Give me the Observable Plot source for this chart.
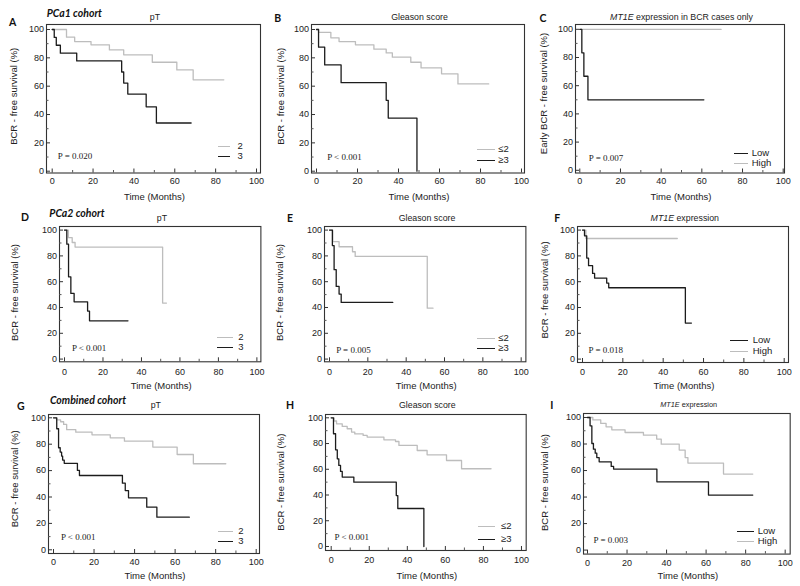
<!DOCTYPE html>
<html><head><meta charset="utf-8">
<script src="https://cdn.jsdelivr.net/npm/d3@7"></script>
<script src="https://cdn.jsdelivr.net/npm/@observablehq/plot@0.6"></script>
<style>
body{margin:0;background:#fff;}
#fig{position:relative;width:800px;height:586px;overflow:hidden;font-family:"Liberation Sans",Arial,sans-serif;color:#222;}
.abs{position:absolute;white-space:nowrap;line-height:1;}
.letter{font-family:Lato,"Liberation Sans",sans-serif;font-weight:bold;font-size:10.5px;transform:translate(-50%,-50%);color:#111;}
.cohort{font-family:Lato,"Liberation Sans",sans-serif;font-weight:bold;font-style:italic;font-size:10.5px;transform:translateY(-50%);color:#111;}
.title{font-size:8.8px;transform:translate(-50%,-50%);color:#222;}
.leglab{font-size:9.5px;transform:translateY(-50%);color:#222;}
.plotbox{position:absolute;}
</style></head><body><div id="fig"></div><script>
// ---------- data (time in months, BCR-free survival in %) ----------
const majorTicks = [0, 20, 40, 60, 80, 100];
const minorTicks = [10, 30, 50, 70, 90];

// A: PCa1, pT
const aT2Time = [0, 7, 11, 19, 28, 35, 49, 61, 69, 84];
const aT2Surv = [100, 94.6, 91.5, 89.2, 85.6, 82.1, 76.9, 71.5, 64.5, 64.5];
const aT3Time = [0, 1, 2, 4, 12, 34, 35, 37, 46, 51, 68];
const aT3Surv = [100, 94.4, 88.9, 83.3, 77.8, 70, 62.2, 54.4, 45.4, 34, 34];
// B: PCa1, Gleason
const bLoTime = [0, 1, 7, 11, 19, 28, 34, 37, 46, 51, 61, 69, 84];
const bLoSurv = [100, 98, 94.1, 91.5, 89.2, 86.1, 83.5, 80.5, 76.9, 72.9, 68.7, 61.6, 61.6];
const bHiTime = [0, 1, 4, 12, 34, 35, 49];
const bHiSurv = [100, 87.5, 75, 62.5, 50, 37.5, 0];
// C: PCa1, MT1E in BCR cases only
const cHighTime = [0, 69.5];
const cHighSurv = [100, 100];
const cLowTime = [0, 1, 2, 4, 61];
const cLowSurv = [100, 83.3, 66.7, 50, 50];
// D: PCa2, pT
const dT2Time = [0, 2, 4, 5.5, 51, 53];
const dT2Surv = [100, 94.1, 90.4, 86.8, 43.4, 43.4];
const dT3Time = [0, 1.2, 2.1, 3.3, 5, 12, 13, 33];
const dT3Surv = [100, 89.1, 63.8, 50.9, 44.4, 37.2, 29.7, 29.7];
// E: PCa2, Gleason
const eLoTime = [0, 1.7, 5, 12, 13.4, 51, 54];
const eLoSurv = [100, 91, 87.1, 83.2, 79.6, 39.5, 39.5];
const eHiTime = [0, 1.5, 2.4, 3.5, 5, 6.1, 33];
const eHiSurv = [100, 88, 69.3, 56.3, 50.4, 43.9, 43.9];
// F: PCa2, MT1E
const fHighTime = [0, 1.7, 47];
const fHighSurv = [100, 93.5, 93.5];
const fLowTime = [0, 1, 2.1, 3, 5, 6, 12, 13, 51, 54];
const fLowSurv = [100, 95.6, 78.3, 72.4, 66.4, 62.8, 58.9, 55.3, 27.9, 27.9];
// G: Combined, pT
const gT2Time = [0, 1.5, 3.5, 5, 6.5, 11, 19, 28, 35, 49, 61, 69, 85];
const gT2Surv = [100, 98.5, 97, 95, 91, 89.1, 87.1, 84.8, 82.3, 77.8, 72.2, 65.2, 65.2];
const gT3Time = [0, 1.6, 2.5, 3.3, 4, 4.5, 5.3, 11.8, 12.8, 34, 35.4, 37, 46, 51, 67];
const gT3Surv = [100, 91.7, 77.3, 74, 71, 68, 65.5, 60.1, 56.3, 50.5, 44.9, 39.4, 32.3, 24.7, 24.7];
// H: Combined, Gleason
const hLoTime = [0, 1.5, 2.8, 5.8, 8.4, 10.7, 12.4, 16.8, 18.9, 27.7, 33.8, 35.6, 45.2, 50.4, 60.6, 68.5, 84];
const hLoSurv = [100, 97.5, 95.3, 93.3, 91.5, 88.9, 87.5, 86.3, 85, 82.9, 81.6, 78.5, 74.6, 71.2, 66.8, 60.4, 60.4];
const hHiTime = [0, 1.2, 2.3, 3.2, 4, 4.9, 5.8, 11.9, 34.2, 35, 48.7];
const hHiSurv = [100, 87.6, 75.1, 68.1, 63, 58.3, 53.9, 50, 39.6, 29.5, 0];
// I: Combined, MT1E
const iHighTime = [0, 2.7, 6.7, 9.4, 12.3, 19, 28.3, 35, 37.3, 46.4, 49.4, 50.8, 68.8, 83.6];
const iHighSurv = [100, 98.2, 95.5, 93, 90.7, 88.7, 86.7, 83.7, 79.9, 75.4, 69.8, 65.6, 57.3, 57.3];
const iLowTime = [0, 1.3, 2.2, 3, 3.9, 4.7, 5.9, 12, 13.2, 35.1, 61.2, 83.6];
const iLowSurv = [100, 93.7, 80.4, 76.1, 73.1, 69.8, 66.6, 63.1, 61.1, 51.5, 41.5, 41.5];

// ---------- layout / style ----------
const GRAY = "#bdbdbd", BLACK = "#1c1c1c";
const YLAB = "BCR - free survival (%)";
const panels = [
  {L:46,R:260,T:24,B:172.5,x0:51.7,x100:256,y100:29,y0:170.7, letter:"A",lx:12.7,ly:21.7, cohort:"PCa1 cohort",cx:46.7,cy:13.3,
   title:"pT",ty:17.3, ylab:YLAB,ylx:13.3,yly:95.8, p:"P = 0.020",px:57.3,py:156, tpad:5, xly:196,
   series:[[aT2Time,aT2Surv,GRAY],[aT3Time,aT3Surv,BLACK]],
   legend:[["2",GRAY,218.3,230,145.7,237.5],["3",BLACK,218.3,230,155.7,237.5]]},
  {L:311,R:524,T:24,B:172.5,x0:316,x100:521,y100:29,y0:170.7, letter:"B",lx:277.7,ly:18.3,
   title:"Gleason score",ty:17.3, ylab:YLAB,ylx:280,yly:95.8, p:"P < 0.001",px:326.7,py:156.7, tpad:5, xly:196,
   series:[[bLoTime,bLoSurv,GRAY],[bHiTime,bHiSurv,BLACK]],
   legend:[["≤2",GRAY,476.7,495,149,498.3],["≥3",BLACK,476.7,495,160,498.3]]},
  {L:575,R:784,T:23.5,B:172,x0:579.3,x100:782.7,y100:28.3,y0:169.3, letter:"C",lx:543,ly:18.3,
   title:"<i>MT1E</i> expression in BCR cases only",ty:17.3, ylab:"Early BCR - free survival (%)",ylx:543.3,yly:92.5, p:"P = 0.007",px:588.3,py:156.7, tpad:5, xly:196,
   series:[[cHighTime,cHighSurv,GRAY],[cLowTime,cLowSurv,BLACK]],
   legend:[["Low",BLACK,734,748.3,152.7,751.7],["High",GRAY,734,748.3,163.3,751.7]]},
  {L:59.3,R:260.7,T:225.7,B:361,x0:64.3,x100:256.7,y100:229.3,y0:358.3, letter:"D",lx:25,ly:216.7, cohort:"PCa2 cohort",cx:49.3,cy:213.3,
   title:"pT",ty:217.7, ylab:YLAB,ylx:15,yly:291.7, p:"P < 0.001",px:71.7,py:347.7, tpad:6.5, xly:385,
   series:[[dT2Time,dT2Surv,GRAY],[dT3Time,dT3Surv,BLACK]],
   legend:[["2",GRAY,217.3,233.3,336.7,238.2],["3",BLACK,217.3,233.3,346.7,238.2]]},
  {L:324.3,R:525.7,T:225.7,B:361,x0:329.3,x100:521,y100:229.3,y0:358.3, letter:"E",lx:290,ly:217.7,
   title:"Gleason score",ty:217.7, ylab:YLAB,ylx:280,yly:291.7, p:"P = 0.005",px:336,py:349, tpad:6.5, xly:385,
   series:[[eLoTime,eLoSurv,GRAY],[eHiTime,eHiSurv,BLACK]],
   legend:[["≤2",GRAY,476.7,495,337.7,498.3],["≥3",BLACK,476.7,495,348.3,498.3]]},
  {L:577.3,R:788.3,T:225.7,B:361.7,x0:582.3,x100:784,y100:229.3,y0:358.3, letter:"F",lx:557.3,ly:217.7,
   title:"<i>MT1E</i> expression",ty:217.7, ylab:YLAB,ylx:545,yly:289.2, p:"P = 0.018",px:588.3,py:349, tpad:6.5, xly:385,
   series:[[fHighTime,fHighSurv,GRAY],[fLowTime,fLowSurv,BLACK]],
   legend:[["Low",BLACK,730,748.3,340,752.7],["High",GRAY,730,748.3,350.7,752.7]]},
  {L:48.3,R:259.3,T:414,B:553,x0:53.3,x100:256,y100:417.3,y0:549.3, letter:"G",lx:20.7,ly:406, cohort:"Combined cohort",cx:50,cy:400,
   title:"pT",ty:405, ylab:YLAB,ylx:15,yly:478.3, p:"P < 0.001",px:60.7,py:536.7, tpad:5.5, xly:575.5,
   series:[[gT2Time,gT2Surv,GRAY],[gT3Time,gT3Surv,BLACK]],
   legend:[["2",GRAY,218.3,233.3,530.7,238.2],["3",BLACK,218.3,233.3,540.7,238.2]]},
  {L:325,R:525.7,T:414,B:550,x0:330.7,x100:521,y100:417.3,y0:546, letter:"H",lx:290,ly:405,
   title:"Gleason score",ty:405, ylab:YLAB,ylx:280,yly:481.7, p:"P < 0.001",px:334,py:536.7, tpad:6.5, xly:575.5,
   series:[[hLoTime,hLoSurv,GRAY],[hHiTime,hHiSurv,BLACK]],
   legend:[["≤2",GRAY,478.3,495,526,501],["≥3",BLACK,478.3,495,539.3,501]]},
  {L:583.3,R:790,T:412.7,B:553.3,x0:587.3,x100:785,y100:416.7,y0:549.3, letter:"I",lx:551.7,ly:405,
   title:"<i>MT1E</i> expression",ty:405,tsize:7.3, ylab:YLAB,ylx:545,yly:481.7, p:"P = 0.003",px:593.3,py:539.3, tpad:5.5, xly:575.5,
   series:[[iHighTime,iHighSurv,GRAY],[iLowTime,iLowSurv,BLACK]],
   legend:[["Low",BLACK,737.3,754,530.7,757.7],["High",GRAY,737.3,754,540.7,757.7]]}
];

const fig = document.getElementById("fig");
function addDiv(cls, html, x, y, extra) {
  const d = document.createElement("div");
  d.className = "abs " + cls;
  d.innerHTML = html;
  d.style.left = x + "px"; d.style.top = y + "px";
  if (extra) Object.assign(d.style, extra);
  fig.appendChild(d);
  return d;
}

for (const c of panels) {
  const sx = (c.x100 - c.x0) / 100, sy = (c.y0 - c.y100) / 100;
  const xdom = [(c.L - c.x0) / sx, (c.R - c.x0) / sx];
  const ydom = [(c.y0 - c.B) / sy, (c.y0 - c.T) / sy];
  const ml = 50, mr = 8, mt = 14, mb = 34;
  const fw = c.R - c.L, fh = c.B - c.T;
  const marks = [
    Plot.frame({stroke: "#333", strokeWidth: 1.1}),
    Plot.tickX(majorTicks, {x: d => d, insetTop: fh - 4, stroke: "#333"}),
    Plot.tickX(minorTicks, {x: d => d, insetTop: fh - 2.5, stroke: "#555"}),
    Plot.tickY(majorTicks, {y: d => d, insetRight: fw - 4, stroke: "#333"}),
    Plot.tickY(minorTicks, {y: d => d, insetRight: fw - 2.5, stroke: "#555"}),
    Plot.axisX({ticks: majorTicks, tickSize: 0, tickPadding: c.tpad, label: null, fontSize: 9, fill: "#222"}),
    Plot.axisY({ticks: majorTicks, tickSize: 0, tickPadding: 2.5, label: null, fontSize: 9, fill: "#222"}),
  ];
  for (const [t, s, col] of c.series) {
    const rows = t.map((v, i) => ({t: v, s: s[i]}));
    marks.push(Plot.line(rows, {x: "t", y: "s", curve: "step-after", stroke: col, strokeWidth: 1.3}));
  }
  marks.push(Plot.text([c.p], {frameAnchor: "bottom-left", dx: c.px - c.L, dy: c.py - c.B, textAnchor: "start", lineAnchor: "middle",
    fontFamily: "Liberation Serif, Times New Roman, serif", fontSize: 9, fill: "#222"}));
  marks.push(Plot.text([c.ylab], {frameAnchor: "left", rotate: -90, dx: c.ylx - c.L, dy: c.yly - (c.T + c.B) / 2,
    textAnchor: "middle", lineAnchor: "middle", fontSize: 9.5, fill: "#222"}));
  marks.push(Plot.text(["Time (Months)"], {frameAnchor: "bottom", dx: 1, dy: c.xly - c.B, textAnchor: "middle", lineAnchor: "middle",
    fontSize: 9.5, fill: "#222"}));

  const plot = Plot.plot({
    width: fw + ml + mr, height: fh + mt + mb,
    marginLeft: ml, marginRight: mr, marginTop: mt, marginBottom: mb,
    x: {domain: xdom}, y: {domain: ydom},
    style: {background: "transparent", overflow: "visible", fontFamily: "Liberation Sans, Arial, sans-serif", fontSize: "9px", color: "#222"},
    marks
  });
  const box = document.createElement("div");
  box.className = "plotbox";
  box.style.left = (c.L - ml) + "px";
  box.style.top = (c.T - mt) + "px";
  box.appendChild(plot);
  fig.appendChild(box);

  addDiv("letter", c.letter, c.lx, c.ly);
  if (c.cohort) addDiv("cohort", c.cohort, c.cx, c.cy);
  const td = addDiv("title", c.title, (c.L + c.R) / 2 + 2, c.ty);
  if (c.tsize) td.style.fontSize = c.tsize + "px";
  for (const [lab, col, x1, x2, y, lxp] of c.legend) {
    addDiv("", "", x1, Math.round(y) - 0.5, {width: (x2 - x1) + "px", height: "1.3px", background: col});
    addDiv("leglab", lab, lxp, y);
  }
}
</script></body></html>
